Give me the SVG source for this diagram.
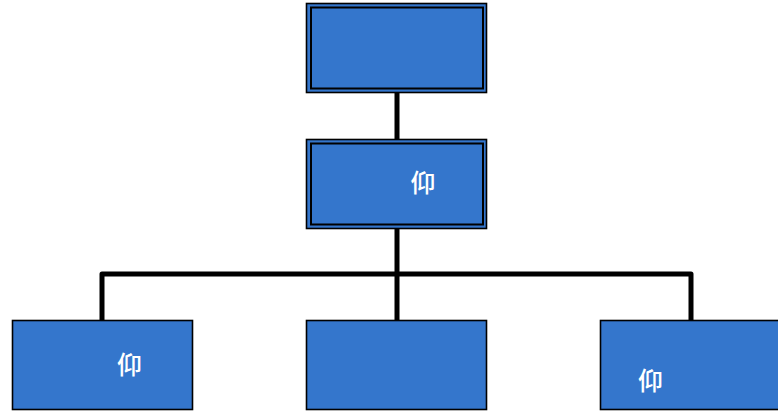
<svg xmlns="http://www.w3.org/2000/svg" width="778" height="414" viewBox="0 0 778 414">
<style>
.box{fill:#3476cc;stroke:#000;stroke-width:1.6}
.inner{fill:none;stroke:#000;stroke-width:2}
.lbl{fill:#fff;font-family:"Noto Sans CJK SC","Noto Sans CJK JP",sans-serif;font-size:25px;font-weight:500;text-anchor:middle}
.conn{fill:none;stroke:#000;stroke-width:5;stroke-linejoin:round;stroke-linecap:round}
</style>
<rect width="778" height="414" fill="#fff"/>
<g id="connectors">
<path class="conn" d="M397 93V139"/>
<path class="conn" d="M397 229V320"/>
<path class="conn" d="M102 320V274H691V320"/>
</g>
<g id="top">
<rect class="box" x="306.5" y="3.5" width="180" height="89"/>
<rect class="inner" x="311" y="7.5" width="172" height="81"/>
</g>
<g id="middle">
<rect class="box" x="306.5" y="139.5" width="180" height="89"/>
<rect class="inner" x="311" y="143.5" width="172" height="81"/>
<text class="lbl" x="423" y="192">仰</text>
</g>
<g id="bottom-left">
<rect class="box" x="12.5" y="320.5" width="180" height="89"/>
<text class="lbl" x="129.5" y="374">仰</text>
</g>
<g id="bottom-middle">
<rect class="box" x="306.5" y="320.5" width="180" height="89"/>
</g>
<g id="bottom-right">
<rect class="box" x="600.5" y="320.5" width="180" height="89"/>
<text class="lbl" x="650.5" y="390">仰</text>
</g>
</svg>
